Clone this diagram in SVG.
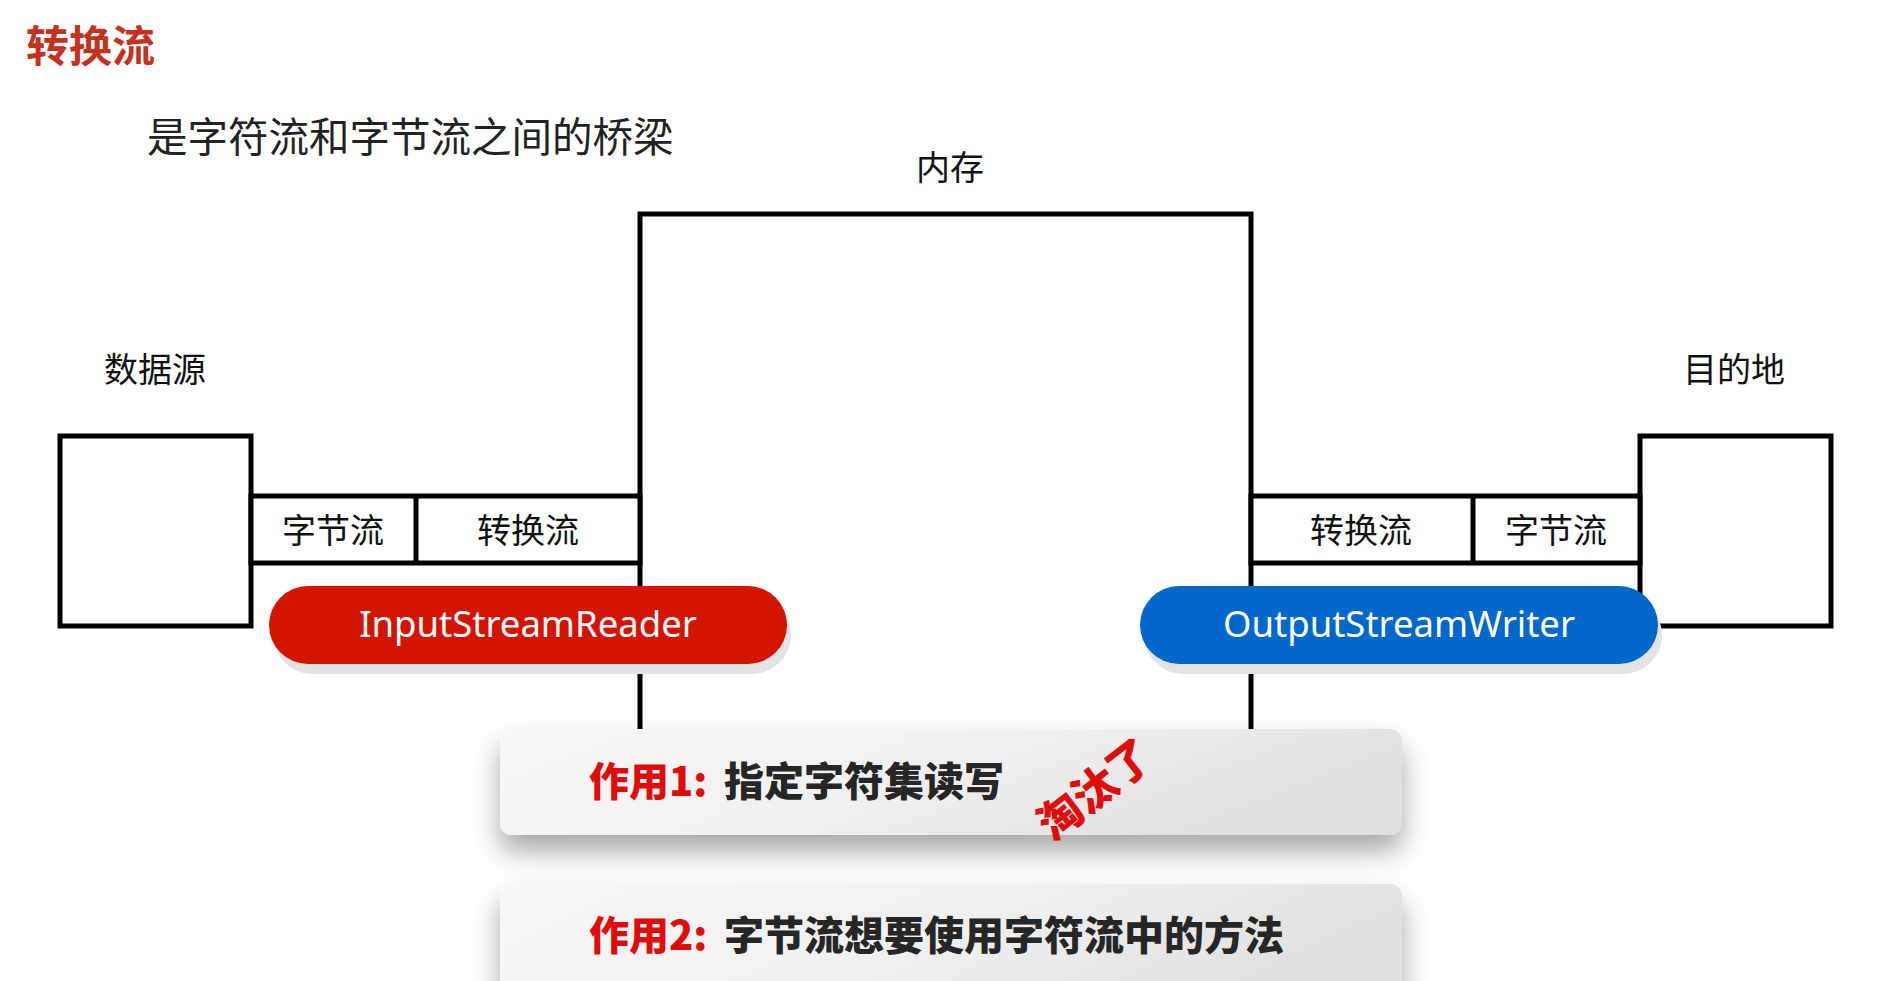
<svg xmlns="http://www.w3.org/2000/svg" width="1884" height="981" viewBox="0 0 1884 981">
<style>
.cjk{font-family:"Noto Sans CJK SC","Noto Sans",sans-serif}
.title{font-size:43px;font-weight:700;fill:#c4321f}
.sub{font-size:40.5px;fill:#222}
.lbl{font-size:34px;fill:#111}
.box{fill:#fff;stroke:#000;stroke-width:5}
.ln{fill:none;stroke:#000;stroke-width:5}
.pilltxt{font-family:"Noto Sans","Open Sans",sans-serif;font-size:36.5px;fill:#fff}
.card{font-size:40px;font-weight:900}
.red{fill:#e00c0c}
.dark{fill:#262626}
</style>
<defs>
<linearGradient id="cardg" x1="0" y1="0" x2="1" y2="0.3">
<stop offset="0" stop-color="#f8f8f8"/>
<stop offset="0.6" stop-color="#efefef"/>
<stop offset="1" stop-color="#e0e0e0"/>
</linearGradient>
<filter id="sh" x="-10%" y="-40%" width="120%" height="200%">
<feGaussianBlur in="SourceAlpha" stdDeviation="14"/>
<feOffset dx="0" dy="16" result="b"/>
<feComponentTransfer><feFuncA type="linear" slope="0.35"/></feComponentTransfer>
<feMerge><feMergeNode/><feMergeNode in="SourceGraphic"/></feMerge>
</filter>
</defs>
<rect width="1884" height="981" fill="#fff"/>

<g id="title"><text class="cjk title" x="26" y="62">转换流</text></g>
<g id="subtitle"><text class="cjk sub" x="147" y="152">是字符流和字节流之间的桥梁</text></g>

<g id="memory">
<text class="cjk lbl" x="950" y="180" text-anchor="middle">内存</text>
<path class="ln" d="M640,730 V214 H1251 V730"/>
</g>

<g id="source">
<text class="cjk lbl" x="155" y="382" text-anchor="middle">数据源</text>
<rect class="box" x="60" y="436" width="191" height="190"/>
</g>

<g id="dest">
<text class="cjk lbl" x="1734" y="382" text-anchor="middle">目的地</text>
<rect class="box" x="1640" y="436" width="191" height="190"/>
</g>

<g id="left-bar">
<rect class="box" x="251" y="496" width="389" height="67"/>
<line class="ln" x1="416" y1="496" x2="416" y2="563"/>
<text class="cjk lbl" x="333" y="543" text-anchor="middle">字节流</text>
<text class="cjk lbl" x="528" y="543" text-anchor="middle">转换流</text>
</g>

<g id="right-bar">
<rect class="box" x="1251" y="496" width="389" height="67"/>
<line class="ln" x1="1473" y1="496" x2="1473" y2="563"/>
<text class="cjk lbl" x="1361" y="543" text-anchor="middle">转换流</text>
<text class="cjk lbl" x="1556" y="543" text-anchor="middle">字节流</text>
</g>

<g id="input-reader">
<rect x="273" y="596" width="518" height="78" rx="39" fill="#e3e3e3"/>
<rect x="269" y="586" width="518" height="78" rx="39" fill="#d21400"/>
<text class="pilltxt" x="528" y="637" text-anchor="middle">InputStreamReader</text>
</g>

<g id="output-writer">
<rect x="1144" y="596" width="518" height="78" rx="39" fill="#e3e3e3"/>
<rect x="1140" y="586" width="518" height="78" rx="39" fill="#0068c8"/>
<text class="pilltxt" x="1399" y="637" text-anchor="middle">OutputStreamWriter</text>
</g>

<g id="card1">
<rect x="500" y="729" width="902" height="106" rx="12" fill="url(#cardg)" filter="url(#sh)"/>
<text class="cjk card red" x="589" y="796">作用1:</text>
<text class="cjk card dark" x="724" y="796">指定字符集读写</text>
<text class="cjk red" x="1093" y="787" font-size="44" font-weight="900" text-anchor="middle" dominant-baseline="central" transform="rotate(-38 1093 787)">淘汰了</text>
</g>

<g id="card2">
<rect x="500" y="884" width="902" height="130" rx="12" fill="url(#cardg)" filter="url(#sh)"/>
<text class="cjk card red" x="589" y="950">作用2:</text>
<text class="cjk card dark" x="724" y="950">字节流想要使用字符流中的方法</text>
</g>
</svg>
